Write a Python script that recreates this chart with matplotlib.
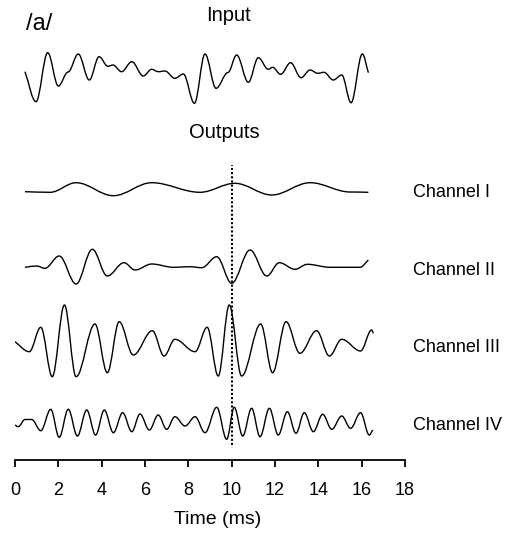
import matplotlib
matplotlib.use('Agg')
import matplotlib.pyplot as plt
from matplotlib.path import Path
from matplotlib.patches import PathPatch

plt.rcParams['font.family'] = ['Liberation Sans', 'DejaVu Sans']

# waveform turning points (time in ms, amplitude arbitrary units)
input_t = [0.46, 0.97, 1.51, 2.00, 2.45, 2.92, 3.43, 3.88, 4.29, 4.52, 4.92, 5.39, 5.92, 6.31,
           6.61, 6.92, 7.38, 7.77, 8.28, 8.77, 9.28, 9.83, 10.23, 10.77, 11.23, 11.69, 11.89,
           12.26, 12.72, 13.20, 13.62, 13.97, 14.26, 14.69, 15.08, 15.51, 16.03, 16.31]
input_a = [0.3, -29.7, 19.3, -14.0, 0.0, 18.0, -8.0, 15.3, 5.7, 7.0, 0.3, 10.3, -4.0, 2.7,
           0.3, 1.0, -6.3, -2.0, -31.3, 18.0, -16.3, -0.5, 17.0, -10.3, 14.3, 2.7, 4.7,
           -2.3, 9.3, -5.7, 2.0, -1.3, -0.3, -8.0, -3.0, -30.7, 18.0, -0.7]

ch1_t = [0.46, 1.62, 2.82, 4.54, 6.31, 8.54, 10.15, 11.85, 13.62, 15.46, 16.31]
ch1_a = [0.3, -0.3, 9.3, -3.7, 9.3, -0.3, 8.7, -3.0, 9.3, 0.0, -0.3]

ch2_t = [0.46, 1.00, 1.38, 2.04, 2.82, 3.57, 4.26, 5.03, 5.54, 6.31, 7.31, 8.08, 8.62, 9.31,
         10.00, 10.85, 11.62, 12.20, 12.92, 13.49, 14.54, 15.92, 16.31]
ch2_a = [-0.3, 1.0, -1.3, 11.0, -17.0, 17.7, -9.0, 4.3, -3.0, 3.0, -0.3, 0.3, -0.7, 10.3,
         -16.3, 17.0, -9.0, 4.3, -2.3, 2.7, -0.3, -0.3, 7.0]

ch3_t = [0.00, 0.66, 1.19, 1.72, 2.28, 2.82, 3.69, 4.26, 4.81, 5.46, 6.34, 6.88, 7.38, 8.31,
         8.87, 9.38, 9.89, 10.46, 11.34, 11.89, 12.51, 13.15, 13.92, 14.51, 15.08, 15.95,
         16.46, 16.54]
ch3_a = [0.3, -9.7, 14.7, -34.7, 37.0, -34.7, 18.0, -30.7, 20.3, -13.0, 11.3, -14.0, 2.7, -9.7,
         14.7, -34.0, 37.0, -34.0, 18.0, -30.7, 20.3, -11.3, 11.3, -14.0, 2.7, -9.0,
         12.0, 8.7]

ch4_t = [0.00, 0.15, 0.46, 0.77, 1.19, 1.65, 2.04, 2.46, 2.88, 3.31, 3.72, 4.12, 4.54, 4.97,
         5.39, 5.77, 6.20, 6.61, 7.00, 7.38, 7.85, 8.31, 8.77, 9.31, 9.77, 10.12, 10.51,
         10.92, 11.31, 11.74, 12.15, 12.57, 12.97, 13.35, 13.77, 14.20, 14.62, 15.08, 15.49,
         15.95, 16.35, 16.51]
ch4_a = [-2.0, -3.7, 3.5, 3.5, -7.7, 13.7, -14.3, 13.7, -13.0, 13.0, -12.0, 13.0, -9.7, 10.3,
         -8.7, 9.0, -7.0, 8.0, -6.3, 6.3, -3.0, 6.3, -9.7, 15.7, -16.3, 15.7, -13.0,
         14.7, -13.7, 14.7, -12.0, 11.3, -10.3, 10.3, -8.7, 8.7, -6.3, 7.0, -5.3,
         10.3, -12.0, -7.0]

channel_names = ['Channel I', 'Channel II', 'Channel III', 'Channel IV']
xticks = [0, 2, 4, 6, 8, 10, 12, 14, 16, 18]
marker_time = 10


def wave_path(t, a, off, k=0.36):
    # smooth curve through the turning points: flat tangents at the inner points
    verts = [(t[0], a[0] + off)]
    codes = [Path.MOVETO]
    n = len(t)
    for i in range(n - 1):
        t0, y0 = t[i], a[i] + off
        t1, y1 = t[i + 1], a[i + 1] + off
        d = t1 - t0
        if i == 0:
            c1 = (t0 + d / 3, y0 + (y1 - y0) / 3)
        else:
            c1 = (t0 + k * d, y0)
        if i + 1 == n - 1:
            c2 = (t1 - d / 3, y1 - (y1 - y0) / 3)
        else:
            c2 = (t1 - k * d, y1)
        verts += [c1, c2, (t1, y1)]
        codes += [Path.CURVE4] * 3
    return Path(verts, codes)


fig = plt.figure(figsize=(5.08, 5.33), dpi=100)
ax = fig.add_axes([15 / 508, 73 / 533, 390 / 508, 460 / 533])
ax.set_xlim(0, 18)
ax.set_ylim(0, 460)

offsets = [388, 268, 193, 118, 37]
label_y = [267.5, 189.5, 112, 35]
waves = [(input_t, input_a), (ch1_t, ch1_a), (ch2_t, ch2_a), (ch3_t, ch3_a), (ch4_t, ch4_a)]
for (t, a), off in zip(waves, offsets):
    ax.add_patch(PathPatch(wave_path(t, a, off), fill=False, edgecolor='black', lw=1.0))

ax.vlines(marker_time, 15, 295, colors='black', linestyles=(0, (1, 1)), lw=1.5)

for name, y in zip(channel_names, label_y):
    ax.text(18.35, y, name, fontsize=13, va='center', ha='left')

ax.text(9.85, 444.5, 'Input', fontsize=14.5, ha='center', va='center')
ax.text(9.65, 327, 'Outputs', fontsize=14.5, ha='center', va='center')
ax.text(0.5, 436, '/a/', fontsize=17, ha='left', va='center')

for s in ['left', 'right', 'top']:
    ax.spines[s].set_visible(False)
ax.spines['bottom'].set_linewidth(1.3)
ax.set_yticks([])
ax.set_xticks(xticks)
ax.tick_params(axis='x', direction='out', length=5, width=1.3, pad=11, labelsize=13)
ax.set_xlabel('Time (ms)', fontsize=14)
ax.xaxis.set_label_coords(0.52, -0.13)
ax.xaxis.label.set_va('center')

fig.savefig('out.png', dpi=100)
